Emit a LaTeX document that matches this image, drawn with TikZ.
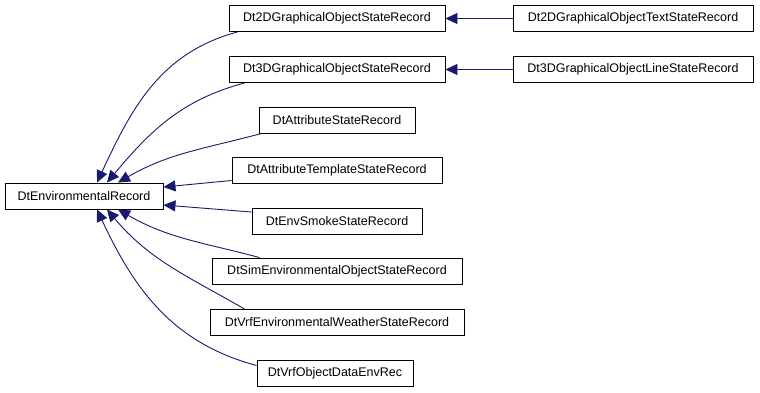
\documentclass[tikz,border=0pt]{standalone}
\usepackage{fontspec}
\setmainfont{Liberation Sans}
\usetikzlibrary{arrows.meta}
\definecolor{edgeblue}{RGB}{25, 25, 112}

\begin{document}
\begin{tikzpicture}[x=1pt, y=-1pt,
    classbox/.style={draw=black, line width=0.9pt, rectangle, inner sep=0pt,
        minimum height=26pt, font=\fontsize{12.5}{14}\selectfont},
    inherit/.style={draw=edgeblue, line width=0.9pt,
        -{Triangle[length=12pt, width=11pt]}}]
    \useasboundingbox (0, 0) rectangle (760, 392);

    % Base class
    \node[classbox, minimum width=158pt] (root) at (84, 196) {DtEnvironmentalRecord};

    % Derived classes
    \node[classbox, minimum width=216pt] (gr2d) at (337, 18.5) {Dt2DGraphicalObjectStateRecord};
    \node[classbox, minimum width=216pt] (gr3d) at (337, 69.5) {Dt3DGraphicalObjectStateRecord};
    \node[classbox, minimum width=156pt] (attr) at (337, 120) {DtAttributeStateRecord};
    \node[classbox, minimum width=210pt] (attrtpl) at (337, 170.5) {DtAttributeTemplateStateRecord};
    \node[classbox, minimum width=170pt] (smoke) at (337, 221) {DtEnvSmokeStateRecord};
    \node[classbox, minimum width=250pt] (simenv) at (337, 271) {DtSimEnvironmentalObjectStateRecord};
    \node[classbox, minimum width=254pt] (weather) at (337, 322.5) {DtVrfEnvironmentalWeatherStateRecord};
    \node[classbox, minimum width=156pt] (objdata) at (335, 373.5) {DtVrfObjectDataEnvRec};

    % Second level
    \node[classbox, minimum width=240pt] (text2d) at (633, 18.5) {Dt2DGraphicalObjectTextStateRecord};
    \node[classbox, minimum width=240pt] (line3d) at (633, 69.5) {Dt3DGraphicalObjectLineStateRecord};

    % Inheritance edges
    \draw[inherit] (text2d.west) -- (gr2d.east);
    \draw[inherit] (line3d.west) -- (gr3d.east);

    \draw[inherit] ([xshift=9pt]gr2d.south west) to[out=195, in=65] ([xshift=13pt]root.north);
    \draw[inherit] ([xshift=16pt]gr3d.south west) to[out=195, in=50] ([xshift=23pt]root.north);
    \draw[inherit] ([xshift=3pt]attr.south west) to[out=195, in=30] ([xshift=34pt]root.north);
    \draw[inherit] ([yshift=-10pt]attrtpl.west) -- ([yshift=9pt]root.east);
    \draw[inherit] ([yshift=9pt]smoke.west) -- ([yshift=-9pt]root.east);
    \draw[inherit] ([xshift=48pt]simenv.north west) to[out=165, in=-30] ([xshift=34pt]root.south);
    \draw[inherit] ([xshift=35pt]weather.north west) to[out=150, in=-50] ([xshift=23pt]root.south);
    \draw[inherit] ([yshift=8pt]objdata.west) to[out=165, in=-65] ([xshift=13pt]root.south);
\end{tikzpicture}
\end{document}
